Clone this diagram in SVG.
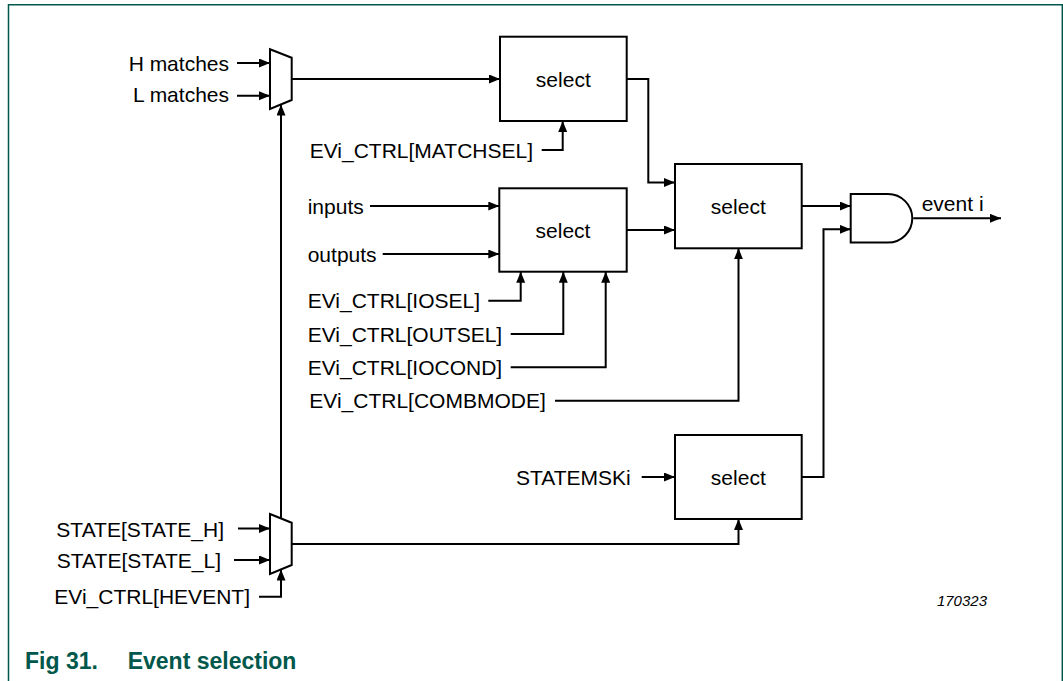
<svg xmlns="http://www.w3.org/2000/svg" width="1063" height="681" viewBox="0 0 1063 681">
<style>
.t{font-family:"Liberation Sans",Arial,sans-serif;font-size:21px;fill:#000}
.box{fill:#fff;stroke:#000;stroke-width:2}
.w{fill:none;stroke:#000;stroke-width:2}
.cap{font-family:"Liberation Sans",Arial,sans-serif;font-size:23px;font-weight:bold;fill:#00574b}
</style>
<defs>
<marker id="ah" markerUnits="userSpaceOnUse" markerWidth="12" markerHeight="10" refX="11" refY="4.5" orient="auto">
<path d="M0,0 L11,4.5 L0,9 z" fill="#000"/>
</marker>
</defs>
<rect x="0" y="0" width="1063" height="681" fill="#fff"/>
<path d="M8.5,681 V4.8 H1062.3 V681" fill="none" stroke="#00574b" stroke-width="1.5"/>

<g id="connectors" class="w" marker-end="url(#ah)">
<path d="M237,63 H270"/>
<path d="M237,95.7 H270"/>
<path d="M291.7,79 H500"/>
<path d="M541.7,150 H562.7 V121"/>
<path d="M626.7,79 H648.3 V182.5 H675"/>
<path d="M370,206 H499.3"/>
<path d="M382.7,254 H499.3"/>
<path d="M488.3,300.7 H520.7 V271.7"/>
<path d="M510.7,334 H563.3 V271.7"/>
<path d="M510.7,367.3 H605.7 V271.7"/>
<path d="M555,400.7 H738.5 V248.3"/>
<path d="M626.7,230 H675"/>
<path d="M801.7,206 H850.7"/>
<path d="M801.7,477 H823.5 V229.3 H850.7"/>
<path d="M913.3,218.3 H1001"/>
<path d="M641.7,477 H675"/>
<path d="M291.7,544 H738.5 V519"/>
<path d="M281,518.4 V104.5"/>
<path d="M238,528.5 H270"/>
<path d="M234,560 H270"/>
<path d="M259,596.7 H281 V569.5"/>
</g>

<g id="mux1"><polygon class="box" points="270,49.3 291.7,57.7 291.7,100 270,109"/></g>
<g id="mux2"><polygon class="box" points="270,514 291.7,522.7 291.7,565 270,574"/></g>

<g id="select1"><rect class="box" x="500" y="36.7" width="126.7" height="84.3"/><text class="t" x="563.3" y="86.5" text-anchor="middle">select</text></g>
<g id="select2"><rect class="box" x="499.3" y="188.3" width="127.4" height="83.4"/><text class="t" x="563" y="237.5" text-anchor="middle">select</text></g>
<g id="select3"><rect class="box" x="675" y="164" width="126.7" height="84.3"/><text class="t" x="738.3" y="213.5" text-anchor="middle">select</text></g>
<g id="select4"><rect class="box" x="675" y="435" width="126.7" height="84"/><text class="t" x="738.3" y="484.8" text-anchor="middle">select</text></g>

<g id="and"><path class="box" d="M850.7,194 H888 A24.3,24.3 0 0 1 888,242.6 H850.7 Z"/></g>

<g id="labels">
<text class="t" x="229" y="70.7" text-anchor="end">H matches</text>
<text class="t" x="229" y="102.3" text-anchor="end">L matches</text>
<text class="t" x="533" y="157.5" text-anchor="end">EVi_CTRL[MATCHSEL]</text>
<text class="t" x="307.7" y="213.5">inputs</text>
<text class="t" x="307.7" y="261.5">outputs</text>
<text class="t" x="307.7" y="308.2">EVi_CTRL[IOSEL]</text>
<text class="t" x="307.7" y="341.5">EVi_CTRL[OUTSEL]</text>
<text class="t" x="307.7" y="374.8">EVi_CTRL[IOCOND]</text>
<text class="t" x="309.3" y="408.2">EVi_CTRL[COMBMODE]</text>
<text class="t" x="516" y="484.8">STATEMSKi</text>
<text class="t" x="921.7" y="211">event i</text>
<text class="t" x="224" y="536.6" text-anchor="end">STATE[STATE_H]</text>
<text class="t" x="221" y="567.5" text-anchor="end">STATE[STATE_L]</text>
<text class="t" x="54.3" y="604.2">EVi_CTRL[HEVENT]</text>
<text x="987" y="605.5" text-anchor="end" font-family="Liberation Sans, Arial, sans-serif" font-size="15" font-style="italic">170323</text>
</g>

<g id="caption">
<text class="cap" x="25" y="669.3">Fig 31.</text>
<text class="cap" x="127.7" y="669.3">Event selection</text>
</g>
</svg>
